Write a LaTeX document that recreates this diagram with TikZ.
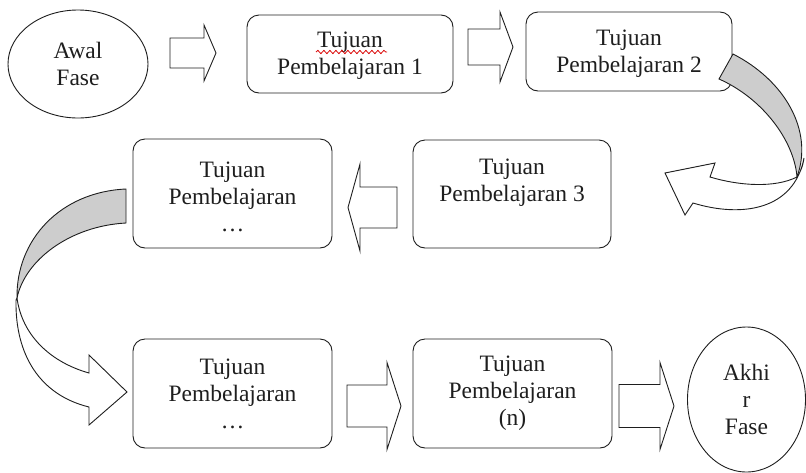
\documentclass[tikz,border=0pt]{standalone}
\usepackage{fontspec}
\setmainfont{Liberation Serif}
\newfontfamily\tnrfont{Liberation Serif}
\usetikzlibrary{shapes.geometric,decorations.pathmorphing}
\definecolor{bandgray}{RGB}{205,205,205}
\definecolor{inkc}{RGB}{30,30,30}
\newcommand\blockarr[6]{\draw[blk] (#1,#4-#5) -- (#2,#4-#5) -- (#2,#4-#6) -- (#3,#4) -- (#2,#4+#6) -- (#2,#4+#5) -- (#1,#4+#5) -- cycle;}
\newcommand\lift[1]{\rule{0pt}{#1}}
\begin{document}
\begin{tikzpicture}[x=1pt,y=-1pt,
  lbl/.style={font=\tnrfont\fontsize{23.5}{27}\selectfont, text=inkc, align=center, inner sep=0pt},
  rbox/.style={lbl, draw=inkc, line width=0.9pt, rounded corners=12pt, rectangle},
  oval/.style={lbl, draw=inkc, line width=0.9pt, ellipse},
  blk/.style={draw=inkc, line width=0.9pt, fill=white, line join=miter},
  band/.style={draw=inkc, line width=0.9pt, fill=bandgray},
  front/.style={draw=inkc, line width=0.9pt, fill=white}]
\useasboundingbox (0,0) rectangle (806,472);
% nodes
\node[oval, minimum width=140pt, minimum height=108pt] (awal) at (78,64) {Awal\\Fase};
\node[rbox, minimum width=206pt, minimum height=78pt] (tp1) at (350,54) {\lift{19pt}Tujuan\\Pembelajaran 1};
\node[rbox, minimum width=206pt, minimum height=79pt] (tp2) at (629,51.5) {\lift{19pt}Tujuan\\Pembelajaran 2};
\node[rbox, minimum width=198pt, minimum height=108pt] (tp3) at (512,194) {Tujuan\\Pembelajaran 3\\\mbox{}};
\node[rbox, minimum width=199pt, minimum height=109pt] (tp4) at (232.5,193.5) {\lift{22pt}Tujuan\\Pembelajaran\\…};
\node[rbox, minimum width=199pt, minimum height=109pt] (tp5) at (232.5,393.5) {Tujuan\\Pembelajaran\\…};
\node[rbox, minimum width=199pt, minimum height=109pt] (tpn) at (512.5,393.5) {Tujuan\\Pembelajaran\\(n)};
\node[oval, minimum width=118pt, minimum height=145pt] (akhir) at (746.5,399.5) {Akhi\\r\\Fase};
% spell-check squiggle
\draw[red!85!black, line width=0.8pt, decorate, decoration={snake, amplitude=1.6pt, segment length=6pt}] (316,52) -- (387,52);
% straight block arrows
\blockarr{170}{204}{216}{53}{15}{28}
\blockarr{468}{500}{513}{47}{18}{35}
\blockarr{397}{360}{348}{207.5}{20.5}{43.5}
\blockarr{347}{387}{401}{406}{21}{43.5}
\blockarr{619}{660}{674}{406}{21.5}{43.5}
% curved arrow right (tp2 -> tp3)
\draw[band] (733,54) .. controls (784,80) and (814,130) .. (797,177)
  .. controls (794,140) and (762,98) .. (719,79) -- cycle;
\draw[front] (797,177) .. controls (775,188) and (740,186) .. (710,177)
  -- (715,163) -- (665,173) -- (685,215) -- (693,203)
  .. controls (742,218) and (794,210) .. (804,158)
  .. controls (803,166) and (800,173) .. (797,177) -- cycle;
% curved arrow left (tp4 -> tp5)
\draw[band] (126,189) -- (126,223) .. controls (70,226) and (25,260) .. (17,298)
  .. controls (16,240) and (60,192) .. (126,189) -- cycle;
\draw[front] (17,298) .. controls (22,335) and (50,362) .. (89,373)
  -- (89,355) -- (127,392) -- (89,425) -- (89,407)
  .. controls (40,395) and (15,355) .. (16,300) -- cycle;
\end{tikzpicture}
\end{document}
